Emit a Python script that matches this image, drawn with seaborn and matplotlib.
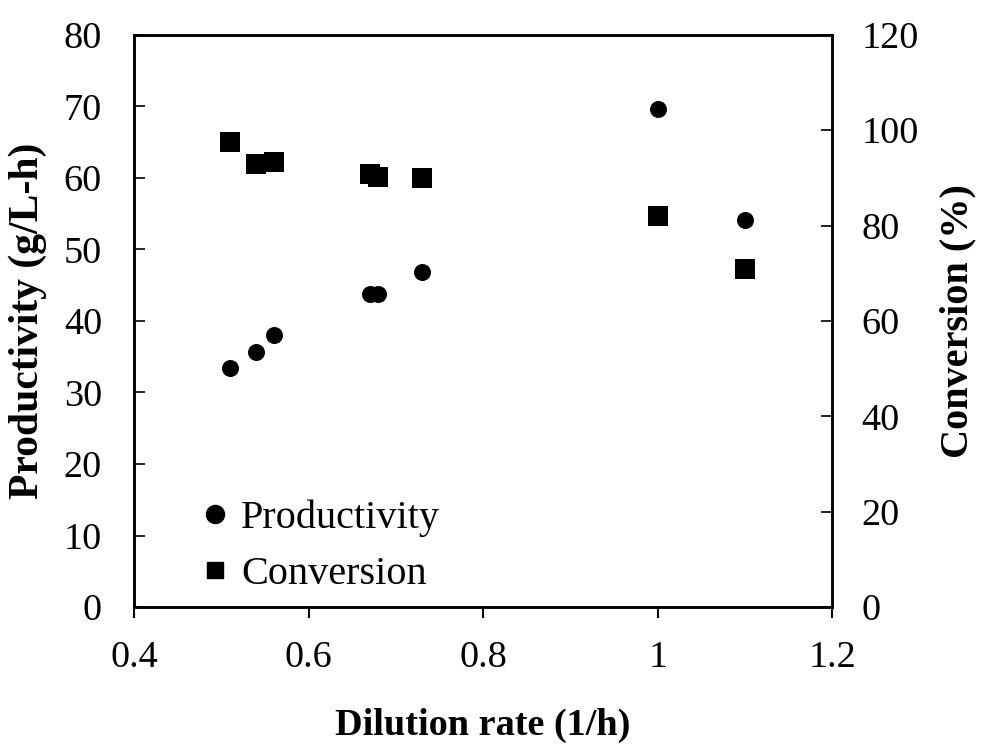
import matplotlib
matplotlib.use("Agg")
import matplotlib.pyplot as plt
import seaborn as sns
import pandas as pd
from matplotlib.lines import Line2D

# Continuous culture results
dilution_rate = [0.51, 0.54, 0.56, 0.67, 0.68, 0.73, 1.00, 1.10]
productivity = [33.4, 35.6, 38.0, 43.7, 43.7, 46.9, 69.6, 54.1]
conversion = [97.5, 92.8, 93.4, 90.8, 90.1, 90.0, 82.0, 70.8]

x_ticks = [0.4, 0.6, 0.8, 1.0, 1.2]
x_tick_labels = ["0.4", "0.6", "0.8", "1", "1.2"]
left_ticks = [0, 10, 20, 30, 40, 50, 60, 70, 80]
right_ticks = [0, 20, 40, 60, 80, 100, 120]

df = pd.DataFrame({"D": dilution_rate, "P": productivity, "C": conversion})

sns.set_theme(style="white")
plt.rcParams["font.family"] = ["Liberation Serif", "DejaVu Serif"]
plt.rcParams["text.color"] = "black"
plt.rcParams["axes.labelcolor"] = "black"

fig = plt.figure(figsize=(9.85, 7.56), dpi=100)
ax = fig.add_axes([0.136, 0.197, 0.709, 0.757])
ax2 = ax.twinx()

sns.scatterplot(data=df, x="D", y="P", ax=ax, marker="o", s=150,
                color="black", edgecolor="black", linewidth=0, zorder=3)
sns.scatterplot(data=df, x="D", y="C", ax=ax2, marker="s", s=190,
                color="black", edgecolor="black", linewidth=0, zorder=3)

ax.set_xlim(0.4, 1.2)
ax.set_ylim(0, 80)
ax2.set_ylim(0, 120)
ax.set_xticks(x_ticks)
ax.set_xticklabels(x_tick_labels)
ax.set_yticks(left_ticks)
ax2.set_yticks(right_ticks)

tick_fs = 27.5
ax.tick_params(axis="x", direction="out", length=8, width=1.5, pad=16,
               labelsize=tick_fs, colors="black", bottom=True)
ax.tick_params(axis="y", direction="in", length=8, width=1.2, pad=23,
               labelsize=tick_fs, colors="black", left=True)
ax2.tick_params(axis="y", direction="in", length=8, width=1.2, pad=21,
                labelsize=tick_fs, colors="black", right=True)

for a in (ax, ax2):
    for sp in a.spines.values():
        sp.set_color("black")
        sp.set_linewidth(1.8)

ax.set_xlabel("Dilution rate (1/h)", fontsize=27.5, fontweight="bold",
              labelpad=24, color="black")
ax.set_ylabel("Productivity (g/L-h)", fontsize=30, fontweight="bold",
              labelpad=12, color="black")
ax2.set_ylabel("Conversion (%)", fontsize=29, fontweight="bold",
               labelpad=15, color="black")

handles = [
    Line2D([], [], marker="o", linestyle="none", color="black", markersize=13),
    Line2D([], [], marker="s", linestyle="none", color="black", markersize=12),
]
leg = ax.legend(handles, ["Productivity", "Conversion"], loc="lower left",
                bbox_to_anchor=(0.087, 0.025), frameon=False, fontsize=29,
                borderaxespad=0, borderpad=0, handlelength=1.0,
                handletextpad=0.15, labelspacing=0.45)
for t in leg.get_texts():
    t.set_color("black")

fig.savefig("out.png", dpi=100, facecolor="white")
